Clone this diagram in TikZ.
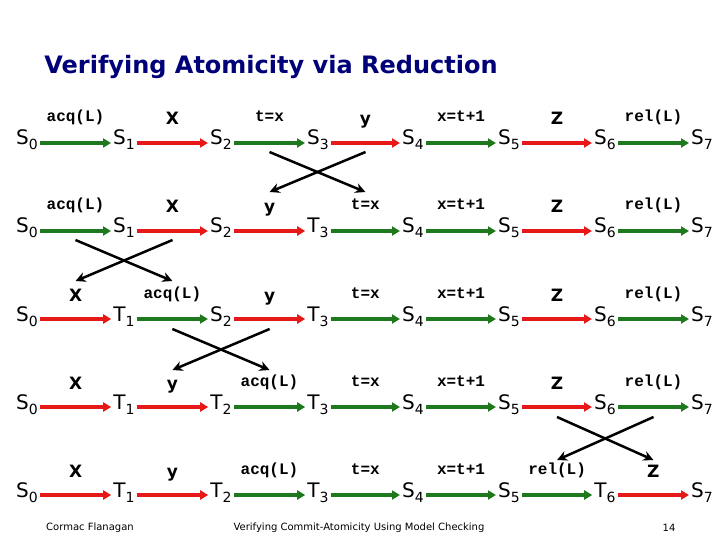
\documentclass[tikz,border=0pt]{standalone}
\usepackage{fontspec}
\setmainfont{DejaVu Sans}
\newfontfamily\codefont{Liberation Mono}
\usetikzlibrary{arrows.meta}

\definecolor{grnc}{RGB}{30,120,30}
\definecolor{redc}{RGB}{230,25,25}
\definecolor{titlec}{RGB}{0,0,120}
\newcommand{\stlab}[2]{#1\raisebox{-5pt}{\fontsize{14}{14}\selectfont #2}}

\begin{document}
\begin{tikzpicture}[
        x=1pt, y=-1pt,
        stnode/.style={font=\fontsize{20}{22}\selectfont, inner sep=2pt, anchor=base},
        oplbl/.style={font=\codefont\bfseries\fontsize{16}{18}\selectfont, anchor=base, yshift=21pt, inner sep=0pt},
        actlbl/.style={font=\bfseries\fontsize{17}{18}\selectfont, anchor=base, yshift=18pt, inner sep=0pt},
        grn/.style={draw=grnc, line width=3.5pt, -{Triangle[length=8pt,width=9pt]}},
        rd/.style={draw=redc, line width=3.5pt, -{Triangle[length=8pt,width=9pt]}},
        commute/.style={draw=black, line width=2.5pt, -{Stealth[length=10pt,width=10pt]}},
        foot/.style={font=\fontsize{10}{12}\selectfont}
      ]

      \useasboundingbox[fill=white] (0,0) rectangle (720,540);

      % Title
      \node[font=\bfseries\fontsize{24}{28}\selectfont, text=titlec] (title) at (271,67) {Verifying Atomicity via Reduction};

      % Row 1 - original trace
      \node[stnode] (r1s0) at (27,145) {\stlab{S}{0}};
      \node[stnode] (r1s1) at (124,145) {\stlab{S}{1}};
      \node[stnode] (r1s2) at (221,145) {\stlab{S}{2}};
      \node[stnode] (r1s3) at (318,145) {\stlab{S}{3}};
      \node[stnode] (r1s4) at (413,145) {\stlab{S}{4}};
      \node[stnode] (r1s5) at (509,145) {\stlab{S}{5}};
      \node[stnode] (r1s6) at (605,145) {\stlab{S}{6}};
      \node[stnode] (r1s7) at (702,145) {\stlab{S}{7}};

      \draw[grn] ([yshift=2pt]r1s0.base east) -- node[oplbl] (r1l1) {acq(L)} ([yshift=2pt]r1s1.base west);
      \draw[rd] ([yshift=2pt]r1s1.base east) -- node[actlbl] (r1l2) {X} ([yshift=2pt]r1s2.base west);
      \draw[grn] ([yshift=2pt]r1s2.base east) -- coordinate[midway] (r1m3) node[oplbl] (r1l3) {t=x} ([yshift=2pt]r1s3.base west);
      \draw[rd] ([yshift=2pt]r1s3.base east) -- coordinate[midway] (r1m4) node[actlbl] (r1l4) {y} ([yshift=2pt]r1s4.base west);
      \draw[grn] ([yshift=2pt]r1s4.base east) -- node[oplbl] (r1l5) {x=t+1} ([yshift=2pt]r1s5.base west);
      \draw[rd] ([yshift=2pt]r1s5.base east) -- node[actlbl] (r1l6) {Z} ([yshift=2pt]r1s6.base west);
      \draw[grn] ([yshift=2pt]r1s6.base east) -- node[oplbl] (r1l7) {rel(L)} ([yshift=2pt]r1s7.base west);

      % Row 2 - y moved left of t=x
      \node[stnode] (r2s0) at (27,233) {\stlab{S}{0}};
      \node[stnode] (r2s1) at (124,233) {\stlab{S}{1}};
      \node[stnode] (r2s2) at (221,233) {\stlab{S}{2}};
      \node[stnode] (r2s3) at (318,233) {\stlab{T}{3}};
      \node[stnode] (r2s4) at (413,233) {\stlab{S}{4}};
      \node[stnode] (r2s5) at (509,233) {\stlab{S}{5}};
      \node[stnode] (r2s6) at (605,233) {\stlab{S}{6}};
      \node[stnode] (r2s7) at (702,233) {\stlab{S}{7}};

      \draw[grn] ([yshift=2pt]r2s0.base east) -- coordinate[midway] (r2m1) node[oplbl] (r2l1) {acq(L)} ([yshift=2pt]r2s1.base west);
      \draw[rd] ([yshift=2pt]r2s1.base east) -- coordinate[midway] (r2m2) node[actlbl] (r2l2) {X} ([yshift=2pt]r2s2.base west);
      \draw[rd] ([yshift=2pt]r2s2.base east) -- coordinate[midway] (r2m3) node[actlbl] (r2l3) {y} ([yshift=2pt]r2s3.base west);
      \draw[grn] ([yshift=2pt]r2s3.base east) -- coordinate[midway] (r2m4) node[oplbl] (r2l4) {t=x} ([yshift=2pt]r2s4.base west);
      \draw[grn] ([yshift=2pt]r2s4.base east) -- node[oplbl] (r2l5) {x=t+1} ([yshift=2pt]r2s5.base west);
      \draw[rd] ([yshift=2pt]r2s5.base east) -- node[actlbl] (r2l6) {Z} ([yshift=2pt]r2s6.base west);
      \draw[grn] ([yshift=2pt]r2s6.base east) -- node[oplbl] (r2l7) {rel(L)} ([yshift=2pt]r2s7.base west);

      % Row 3 - X moved left of acq(L)
      \node[stnode] (r3s0) at (27,321) {\stlab{S}{0}};
      \node[stnode] (r3s1) at (124,321) {\stlab{T}{1}};
      \node[stnode] (r3s2) at (221,321) {\stlab{S}{2}};
      \node[stnode] (r3s3) at (318,321) {\stlab{T}{3}};
      \node[stnode] (r3s4) at (413,321) {\stlab{S}{4}};
      \node[stnode] (r3s5) at (509,321) {\stlab{S}{5}};
      \node[stnode] (r3s6) at (605,321) {\stlab{S}{6}};
      \node[stnode] (r3s7) at (702,321) {\stlab{S}{7}};

      \draw[rd] ([yshift=2pt]r3s0.base east) -- coordinate[midway] (r3m1) node[actlbl] (r3l1) {X} ([yshift=2pt]r3s1.base west);
      \draw[grn] ([yshift=2pt]r3s1.base east) -- coordinate[midway] (r3m2) node[oplbl] (r3l2) {acq(L)} ([yshift=2pt]r3s2.base west);
      \draw[rd] ([yshift=2pt]r3s2.base east) -- coordinate[midway] (r3m3) node[actlbl] (r3l3) {y} ([yshift=2pt]r3s3.base west);
      \draw[grn] ([yshift=2pt]r3s3.base east) -- node[oplbl] (r3l4) {t=x} ([yshift=2pt]r3s4.base west);
      \draw[grn] ([yshift=2pt]r3s4.base east) -- node[oplbl] (r3l5) {x=t+1} ([yshift=2pt]r3s5.base west);
      \draw[rd] ([yshift=2pt]r3s5.base east) -- node[actlbl] (r3l6) {Z} ([yshift=2pt]r3s6.base west);
      \draw[grn] ([yshift=2pt]r3s6.base east) -- node[oplbl] (r3l7) {rel(L)} ([yshift=2pt]r3s7.base west);

      % Row 4 - y moved left of acq(L)
      \node[stnode] (r4s0) at (27,409) {\stlab{S}{0}};
      \node[stnode] (r4s1) at (124,409) {\stlab{T}{1}};
      \node[stnode] (r4s2) at (221,409) {\stlab{T}{2}};
      \node[stnode] (r4s3) at (318,409) {\stlab{T}{3}};
      \node[stnode] (r4s4) at (413,409) {\stlab{S}{4}};
      \node[stnode] (r4s5) at (509,409) {\stlab{S}{5}};
      \node[stnode] (r4s6) at (605,409) {\stlab{S}{6}};
      \node[stnode] (r4s7) at (702,409) {\stlab{S}{7}};

      \draw[rd] ([yshift=2pt]r4s0.base east) -- node[actlbl] (r4l1) {X} ([yshift=2pt]r4s1.base west);
      \draw[rd] ([yshift=2pt]r4s1.base east) -- coordinate[midway] (r4m2) node[actlbl] (r4l2) {y} ([yshift=2pt]r4s2.base west);
      \draw[grn] ([yshift=2pt]r4s2.base east) -- coordinate[midway] (r4m3) node[oplbl] (r4l3) {acq(L)} ([yshift=2pt]r4s3.base west);
      \draw[grn] ([yshift=2pt]r4s3.base east) -- node[oplbl] (r4l4) {t=x} ([yshift=2pt]r4s4.base west);
      \draw[grn] ([yshift=2pt]r4s4.base east) -- node[oplbl] (r4l5) {x=t+1} ([yshift=2pt]r4s5.base west);
      \draw[rd] ([yshift=2pt]r4s5.base east) -- coordinate[midway] (r4m6) node[actlbl] (r4l6) {Z} ([yshift=2pt]r4s6.base west);
      \draw[grn] ([yshift=2pt]r4s6.base east) -- coordinate[midway] (r4m7) node[oplbl] (r4l7) {rel(L)} ([yshift=2pt]r4s7.base west);

      % Row 5 - Z moved right of rel(L)
      \node[stnode] (r5s0) at (27,497) {\stlab{S}{0}};
      \node[stnode] (r5s1) at (124,497) {\stlab{T}{1}};
      \node[stnode] (r5s2) at (221,497) {\stlab{T}{2}};
      \node[stnode] (r5s3) at (318,497) {\stlab{T}{3}};
      \node[stnode] (r5s4) at (413,497) {\stlab{S}{4}};
      \node[stnode] (r5s5) at (509,497) {\stlab{S}{5}};
      \node[stnode] (r5s6) at (605,497) {\stlab{T}{6}};
      \node[stnode] (r5s7) at (702,497) {\stlab{S}{7}};

      \draw[rd] ([yshift=2pt]r5s0.base east) -- node[actlbl] (r5l1) {X} ([yshift=2pt]r5s1.base west);
      \draw[rd] ([yshift=2pt]r5s1.base east) -- node[actlbl] (r5l2) {y} ([yshift=2pt]r5s2.base west);
      \draw[grn] ([yshift=2pt]r5s2.base east) -- node[oplbl] (r5l3) {acq(L)} ([yshift=2pt]r5s3.base west);
      \draw[grn] ([yshift=2pt]r5s3.base east) -- node[oplbl] (r5l4) {t=x} ([yshift=2pt]r5s4.base west);
      \draw[grn] ([yshift=2pt]r5s4.base east) -- node[oplbl] (r5l5) {x=t+1} ([yshift=2pt]r5s5.base west);
      \draw[grn] ([yshift=2pt]r5s5.base east) -- coordinate[midway] (r5m6) node[oplbl] (r5l6) {rel(L)} ([yshift=2pt]r5s6.base west);
      \draw[rd] ([yshift=2pt]r5s6.base east) -- coordinate[midway] (r5m7) node[actlbl] (r5l7) {Z} ([yshift=2pt]r5s7.base west);

      % Commuting steps
      \draw[commute] ([yshift=-9pt]r1m3) -- ([yshift=39pt]r2m4);
      \draw[commute] ([yshift=-9pt]r1m4) -- ([yshift=39pt]r2m3);
      \draw[commute] ([yshift=-9pt]r2m1) -- ([yshift=38pt]r3m2);
      \draw[commute] ([yshift=-9pt]r2m2) -- ([yshift=38pt]r3m1);
      \draw[commute] ([yshift=-10pt]r3m2) -- ([yshift=37pt]r4m3);
      \draw[commute] ([yshift=-10pt]r3m3) -- ([yshift=37pt]r4m2);
      \draw[commute] ([yshift=-10pt]r4m6) -- ([yshift=35pt]r5m7);
      \draw[commute] ([yshift=-10pt]r4m7) -- ([yshift=35pt]r5m6);

      % Footer
      \node[foot] (author) at (90,528) {Cormac Flanagan};
      \node[foot] (talk) at (359,528) {Verifying Commit-Atomicity Using Model Checking};
      \node[foot] (page) at (669,528) {14};

    \end{tikzpicture}
\end{document}
